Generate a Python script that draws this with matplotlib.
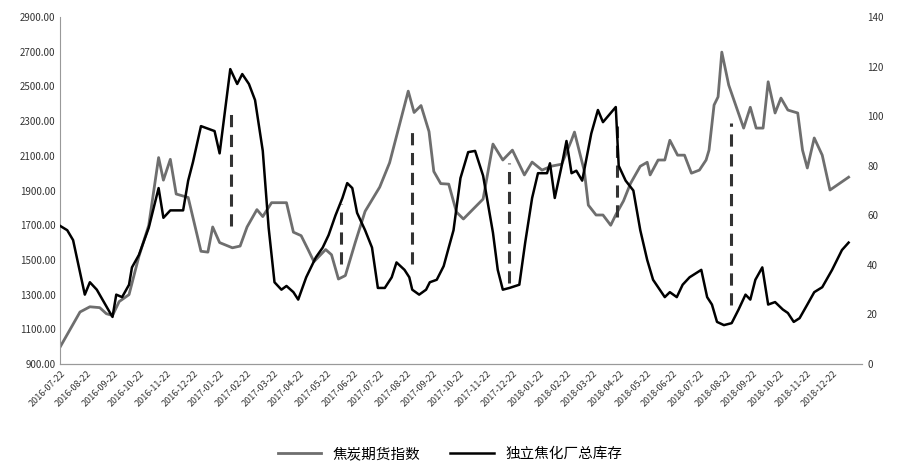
import numpy as np
import matplotlib.pyplot as plt
import pandas as pd

plt.rcParams['font.family'] = ['Noto Sans CJK SC', 'DejaVu Sans']

# x positions are months since 2016-07-22
coke_x = [0, .37, .74, 1.11, 1.48, 1.73, 1.96, 2.21, 2.58, 2.95,
          3.32, 3.69, 3.87, 4.13, 4.35, 4.8, 5.28, 5.54, 5.72, 5.98,
          6.46, 6.75, 7.01, 7.38, 7.6, 7.93, 8.49, 8.75, 9.04, 9.3,
          9.52, 9.96, 10.18, 10.44, 10.7, 11.07, 11.44, 11.99, 12.36, 13.06,
          13.28, 13.54, 13.84, 14.02, 14.28, 14.58, 14.87, 15.13, 15.87, 16.24,
          16.61, 16.97, 17.42, 17.71, 18.08, 18.45, 18.82, 19.19, 19.3, 19.67,
          19.82, 20.11, 20.37, 20.66, 20.85, 21.14, 21.4, 21.77, 22.03, 22.14,
          22.44, 22.69, 22.88, 23.17, 23.43, 23.69, 23.99, 24.24, 24.35, 24.54,
          24.69, 24.83, 25.09, 25.65, 25.9, 26.12, 26.38, 26.57, 26.83, 27.05,
          27.31, 27.68, 27.86, 28.04, 28.3, 28.6, 28.89, 29.59]
coke = [1000, 1100, 1200, 1230, 1225, 1190, 1180, 1260, 1300, 1520,
        1700, 2090, 1960, 2080, 1880, 1860, 1550, 1545, 1690, 1600,
        1570, 1580, 1690, 1790, 1750, 1830, 1830, 1660, 1640, 1560,
        1490, 1560, 1530, 1390, 1410, 1600, 1780, 1920, 2060, 2473,
        2350, 2390, 2240, 2010, 1940, 1937, 1776, 1736, 1851, 2168,
        2076, 2133, 1990, 2064, 2018, 2041, 2052, 2191, 2237, 2012,
        1816, 1759, 1759, 1700, 1760, 1840, 1940, 2040, 2063, 1990,
        2076, 2076, 2190, 2104, 2104, 2000, 2018, 2076, 2133, 2393,
        2440, 2698, 2508, 2260, 2380, 2260, 2260, 2527, 2347, 2433,
        2364, 2347, 2133, 2030, 2203, 2104, 1903, 1977]

stock_x = [0, .26, .48, .74, .92, 1.11, 1.37, 1.85, 1.96, 2.10,
           2.32, 2.58, 2.69, 2.95, 3.32, 3.69, 3.87, 4.13, 4.61, 4.80,
           4.98, 5.28, 5.79, 5.98, 6.38, 6.64, 6.83, 7.08, 7.31, 7.60,
           7.82, 8.04, 8.30, 8.49, 8.75, 8.93, 9.23, 9.59, 9.85, 10.07,
           10.33, 10.59, 10.77, 10.96, 11.14, 11.44, 11.70, 11.92, 12.18, 12.44,
           12.62, 12.92, 13.10, 13.21, 13.47, 13.73, 13.87, 14.13, 14.39, 14.58,
           14.76, 15.02, 15.31, 15.57, 15.87, 16.24, 16.42, 16.61, 16.86, 17.23,
           17.45, 17.71, 17.93, 18.27, 18.38, 18.56, 18.82, 19.00, 19.19, 19.37,
           19.59, 19.93, 20.18, 20.37, 20.85, 20.96, 21.22, 21.51, 21.77, 22.03,
           22.25, 22.69, 22.88, 23.14, 23.36, 23.62, 24.06, 24.28, 24.46, 24.65,
           24.91, 25.20, 25.46, 25.72, 25.90, 26.09, 26.35, 26.57, 26.83, 27.12,
           27.31, 27.53, 27.75, 28.04, 28.30, 28.60, 28.97, 29.34, 29.59]
stock = [55.7, 54, 50, 37, 28, 33, 30, 21, 19, 28,
         27, 32, 39, 44, 55, 71, 59, 62, 62, 74,
         81.5, 96, 94, 85, 119, 113, 117, 113, 106.5, 86,
         55, 33, 30, 31.5, 29, 26, 35, 43, 47, 52,
         60, 67, 73, 71, 61, 54, 47, 30.7, 30.7, 35,
         41, 38, 35, 30, 28, 30, 33, 34, 39.5, 47,
         54, 75, 85.5, 86, 76, 53, 38, 30, 30.7, 32,
         49, 67, 77, 77, 81, 67, 80, 90, 77, 78,
         74, 93, 102.5, 97.6, 103.7, 80, 74, 70, 54, 42,
         34, 27, 29, 27, 32, 35, 38, 27, 24, 17,
         15.7, 16.5, 22, 28, 26, 34, 39, 24, 25, 22,
         20.6, 17, 18.5, 24, 29, 31, 38, 46, 49]

# dashed marker lines: position, top, bottom (left axis scale)
mark_x = [6.42, 10.55, 13.21, 16.86, 20.88, 25.16]
mark_top = [2375, 1822, 2266, 2059, 2272, 2289]
mark_bot = [1695, 1476, 1476, 1367, 1747, 1240]

tick_labels = [d.strftime('%Y-%m-%d') for d in pd.date_range('2016-07-01', periods=30, freq='MS') + pd.Timedelta(days=21)]

fig, ax1 = plt.subplots(figsize=(9, 4.74), dpi=100)
fig.subplots_adjust(left=0.067, right=0.958, top=0.964, bottom=0.232)
ax2 = ax1.twinx()

gray = '#6e6e6e'
l1, = ax1.plot(coke_x, coke, color=gray, lw=2)
l2, = ax2.plot(stock_x, stock, color='black', lw=1.8)
ax1.vlines(mark_x, mark_bot, mark_top, colors='#333333', linestyles=(0, (4, 2.5)), lw=2.2, zorder=5)

ax1.set_ylim(900, 2900)
ax1.set_yticks(np.arange(900, 2901, 200))
ax1.set_yticklabels([f'{v:.2f}' for v in np.arange(900, 2901, 200)])
ax2.set_ylim(0, 140)
ax2.set_yticks(np.arange(0, 141, 20))
ax1.set_xlim(0, 30.1)
ax1.set_xticks(range(30))
ax1.set_xticklabels(tick_labels, rotation=45, ha='right', rotation_mode='anchor')

for ax in (ax1, ax2):
    for s in ('top', 'right', 'left'):
        ax.spines[s].set_visible(False)
    ax.spines['bottom'].set_color('#999999')
    ax.tick_params(length=0, labelsize=7, colors='#333333')
ax1.spines['left'].set_visible(True)
ax1.spines['left'].set_color('#999999')
ax1.tick_params(axis='x', labelsize=6.5)

fig.legend([l1, l2], ['焦炭期货指数', '独立焦化厂总库存'], loc='lower center', ncol=2,
           frameon=False, fontsize=10.5, bbox_to_anchor=(0.5, 0.0), handlelength=3, columnspacing=2)
fig.savefig('out.png', dpi=100)
